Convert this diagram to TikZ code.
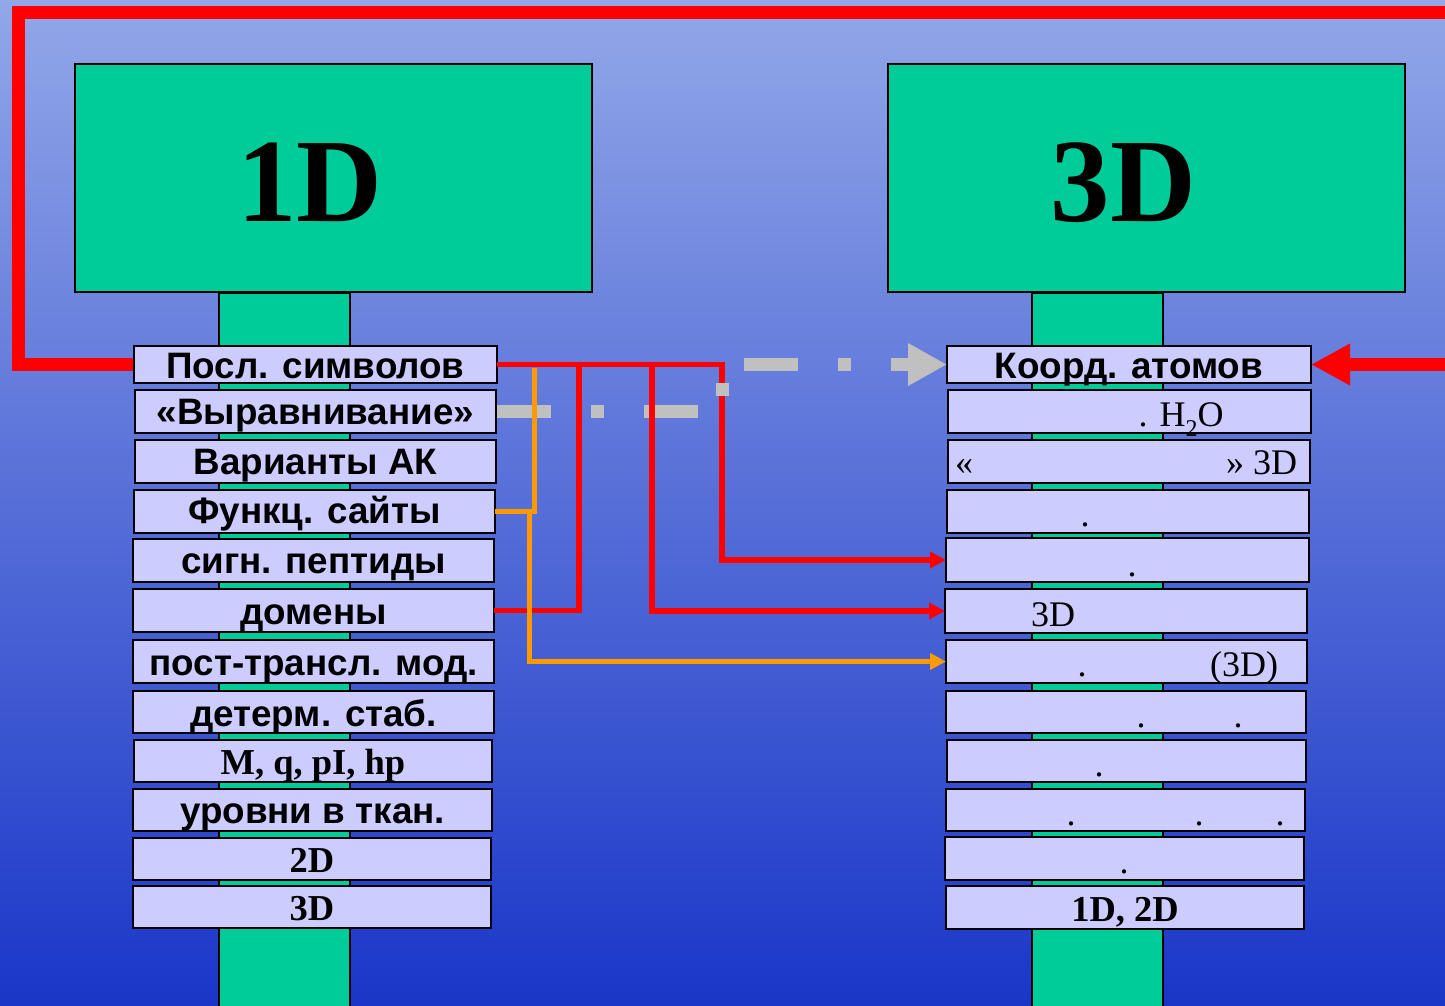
\documentclass[tikz,border=0pt]{standalone}
\usepackage{fontspec}
\setmainfont{Liberation Serif}
\setsansfont{Liberation Sans}
\usetikzlibrary{arrows.meta}
\definecolor{bgtop}{RGB}{146,167,232}
\definecolor{bgbot}{RGB}{26,54,200}
\definecolor{mint}{RGB}{0,204,153}
\definecolor{lav}{RGB}{204,204,255}
\definecolor{silv}{RGB}{192,192,192}
\definecolor{orng}{RGB}{255,153,0}
\definecolor{pred}{RGB}{255,0,0}
\newcommand\mkcell[5]{%
  \pgfmathsetmacro\cellw{#4-#2-2}%
  \pgfmathsetmacro\cellh{#5-#3-2}%
  \pgfmathsetmacro\cellx{(#2+#4)/2}%
  \pgfmathsetmacro\celly{(#3+#5)/2}%
  \node[cell,minimum width=\cellw pt,minimum height=\cellh pt] (#1) at (\cellx,\celly) {};}
\begin{document}
\begin{tikzpicture}[x=1pt,y=-1pt,
  cell/.style={draw=black,line width=2pt,fill=lav,inner sep=0pt,outer sep=0pt},
  stem/.style={draw=black,line width=2pt,fill=mint,inner sep=0pt,outer sep=0pt},
  bigbox/.style={draw=black,line width=2pt,fill=mint,inner sep=0pt,outer sep=0pt},
  lbl/.style={font=\sffamily\bfseries\fontsize{36.8}{40}\selectfont,anchor=base,inner sep=0pt},
  tlbl/.style={font=\fontsize{36}{40}\selectfont,anchor=base,inner sep=0pt},
  tlblw/.style={tlbl,anchor=base west},
  tblbl/.style={font=\bfseries\fontsize{36.5}{40}\selectfont,anchor=base,inner sep=0pt},
  bigtxt/.style={font=\bfseries\fontsize{119}{120}\selectfont,anchor=base,inner sep=0pt},
  redframe/.style={draw=pred,line width=13pt},
  rline/.style={draw=pred,line width=5.5pt},
  oline/.style={draw=orng,line width=5pt},
  gline/.style={draw=silv,line width=13pt,dash pattern=on 54pt off 40pt on 13pt off 40pt},
  smalltip/.style={-{Triangle[length=16pt,width=16pt]}}
]
\useasboundingbox (0,0) rectangle (1445,1005);
\clip (0,0) rectangle (1445,1005);
\shade[top color=bgtop,bottom color=bgbot] (-1,-1) rectangle (1446,1006);

\coordinate (xA) at (722,0);
\coordinate (xB) at (652,0);
\coordinate (xC) at (579,0);
\coordinate (xD) at (534,0);
\coordinate (xE) at (529,0);
\coordinate (fBL) at (18.5,364.5);
\coordinate (fTL) at (18.5,12.5);
\coordinate (fTR) at (1470,12.5);
\coordinate (fBR) at (1470,364.5);

% stems
\node[stem,minimum width=131pt,minimum height=740pt] (S1) at (284.5,663) {};
\node[stem,minimum width=131pt,minimum height=740pt] (S2) at (1097.5,663) {};
% big boxes
\node[bigbox,minimum width=517pt,minimum height=228pt] (B1) at (333.5,178) {};
\node[bigbox,minimum width=517pt,minimum height=228pt] (B2) at (1146.5,178) {};
\node[bigtxt] (T1) at (310,221) {1D};
\node[bigtxt] (T2) at (1123.5,221) {3D};

% left cells
\mkcell{L1}{133}{345}{498}{384}
\mkcell{L2}{134}{389}{497}{434}
\mkcell{L3}{134}{439}{497}{484}
\mkcell{L4}{133}{489}{496}{534}
\mkcell{L5}{132}{538}{495}{583}
\mkcell{L6}{132}{588}{495}{633}
\mkcell{L7}{132}{639}{495}{684}
\mkcell{L8}{132}{690}{495}{734}
\mkcell{L9}{133}{739}{493}{783}
\mkcell{L10}{132}{788}{493}{832}
\mkcell{L11}{132}{837}{492}{881}
\mkcell{L12}{132}{885}{492}{929}
% right cells
\mkcell{R1}{946}{345}{1312}{384}
\mkcell{R2}{947}{389}{1312}{434}
\mkcell{R3}{947}{439}{1311}{484}
\mkcell{R4}{946}{489}{1310}{534}
\mkcell{R5}{945}{537}{1310}{583}
\mkcell{R6}{944}{588}{1308}{634}
\mkcell{R7}{945}{639}{1308}{684}
\mkcell{R8}{945}{690}{1307}{734}
\mkcell{R9}{946}{739}{1307}{783}
\mkcell{R10}{945}{788}{1306}{832}
\mkcell{R11}{944}{836}{1305}{881}
\mkcell{R12}{945}{885}{1305}{930}

% left labels
\node[lbl] (tL1) at (315.5,378) {Посл. символов};
\node[lbl] (tL2) at (315.5,424) {«Выравнивание»};
\node[lbl] (tL3) at (315.5,474) {Варианты АК};
\node[lbl] (tL4) at (314.5,523) {Функц. сайты};
\node[lbl] (tL5) at (313.5,573) {сигн. пептиды};
\node[lbl] (tL6) at (313.5,624) {домены};
\node[lbl] (tL7) at (313.5,675) {пост-трансл. мод.};
\node[lbl] (tL8) at (313.5,726) {детерм. стаб.};
\node[tblbl] (tL9) at (313,774) {M, q, pI, hp};
\node[lbl] (tL10) at (312.5,823) {уровни в ткан.};
\node[tblbl] (tL11) at (312,872) {2D};
\node[tblbl] (tL12) at (312,920) {3D};

% right labels
\node[lbl] (tR1) at (1129,378) {Коорд. атомов};
\node[tlblw] (tR2) at (1138.5,426) {. H\raisebox{-10pt}{\fontsize{24}{24}\selectfont 2}O};
\node[tlblw] (tR3a) at (955,474) {«};
\node[tlblw] (tR3b) at (1226,474) {» 3D};
\node[tlbl] (dR4) at (1085,526) {.};
\node[tlbl] (dR5) at (1132,576) {.};
\node[tlblw] (tR6) at (1031,626) {3D};
\node[tlbl] (dR7) at (1082,676) {.};
\node[tlblw] (tR7) at (1210,676) {(3D)};
\node[tlbl] (dR8a) at (1141,727) {.};
\node[tlbl] (dR8b) at (1238,727) {.};
\node[tlbl] (dR9) at (1099,776) {.};
\node[tlbl] (dR10a) at (1071,825) {.};
\node[tlbl] (dR10b) at (1199,825) {.};
\node[tlbl] (dR10c) at (1280,825) {.};
\node[tlbl] (dR11) at (1124,873) {.};
\node[tblbl] (tR12) at (1125,921) {1D, 2D};

% outer red frame with arrow into R1
\draw[redframe,-{Triangle[length=39pt,width=39pt]},shorten <=1pt] (L1.west) -- (fBL) -- (fTL) -- (fTR) -- (fBR) -- (R1.east);

% red connector to R5
\draw[rline,smalltip] (L1.east) -| (xA |- R5.west) -- (R5.west);
% gray dash-dot arrow
\draw[gline,-{Triangle[length=39pt,width=40pt]},shorten <=1pt] (L2.east) -| (xA |- L1.east) -- (R1.west);
% red connector to R6
\draw[rline,smalltip] (xB |- L1.east) |- (R6.west);
% red from domains up
\draw[rline] (L6.east) -| (xC |- L1.east);
% orange
\draw[oline,shorten <=3pt] (xD |- L1.east) |- (L4.east);
\draw[oline,smalltip] (xE |- L4.east) |- (R7.west);
\end{tikzpicture}
\end{document}
